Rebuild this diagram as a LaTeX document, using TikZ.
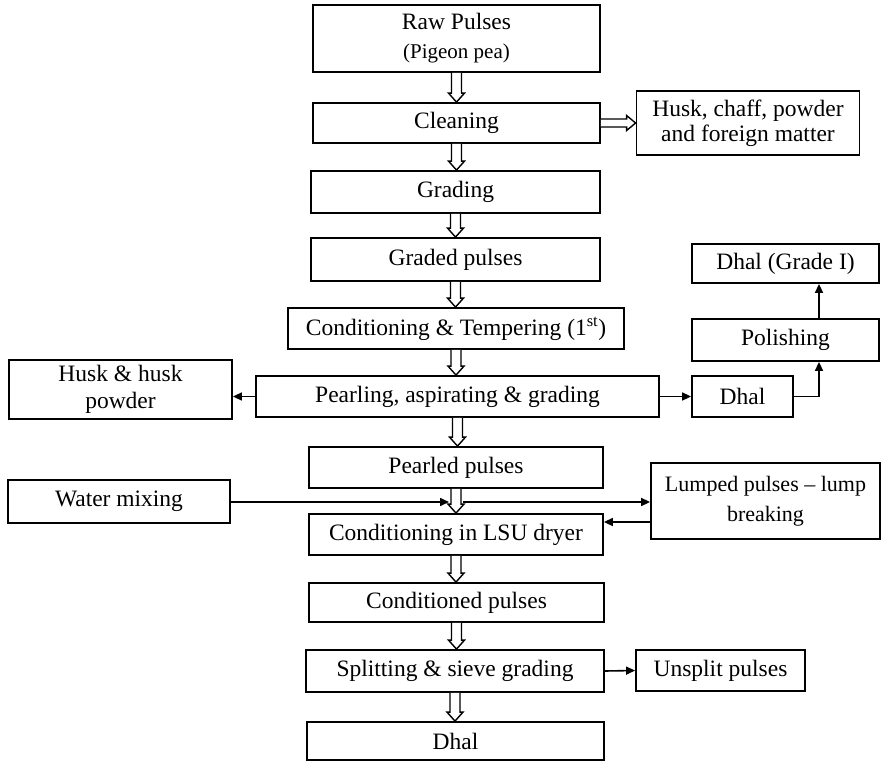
\documentclass[tikz,border=0pt]{standalone}
\usepackage{fontspec}
\setmainfont{Liberation Serif}
\usetikzlibrary{calc,arrows.meta}
\tikzset{
  box/.style={draw, line width=1.8pt, inner sep=0pt, align=center, fill=white,
    font=\fontsize{23.5}{25}\selectfont},
  hollowline/.style={draw, line width=1.4pt, fill=white, line join=miter},
  arr/.style={line width=1.6pt, -{Triangle[length=9pt,width=8pt]}}
}
\newcommand\vhollow[2]{\draw[hollowline] let \p1=(#1), \p2=(#2) in
  (\x1-5pt,\y1) -- (\x1-5pt,\y2+9pt) -- (\x1-8pt,\y2+9pt) -- (\x1,\y2)
  -- (\x1+8pt,\y2+9pt) -- (\x1+5pt,\y2+9pt) -- (\x1+5pt,\y1);}
\newcommand\hhollow[2]{\draw[hollowline] let \p1=(#1), \p2=(#2) in
  (\x1,\y1+4pt) -- (\x2-9pt,\y1+4pt) -- (\x2-9pt,\y1+7.5pt) -- (\x2,\y1)
  -- (\x2-9pt,\y1-7.5pt) -- (\x2-9pt,\y1-4pt) -- (\x1,\y1-4pt);}
\begin{document}
\begin{tikzpicture}[x=1pt,y=-1pt]
\useasboundingbox (0,0) rectangle (887,761);
% main column
\node[box, minimum width=287pt, minimum height=67pt] (raw) at (456.5,38.5)
  {Raw Pulses\\[4pt]{\fontsize{21}{22}\selectfont (Pigeon pea)}};
\node[box, minimum width=287pt, minimum height=40pt] (clean) at (456.5,123) {Cleaning};
\node[box, minimum width=289pt, minimum height=42pt] (grad) at (455.5,192) {Grading};
\node[box, minimum width=289pt, minimum height=43pt] (graded) at (455.5,259.5) {Graded pulses};
\node[box, minimum width=336pt, minimum height=41pt] (cond) at (456,328.5)
  {Conditioning \& Tempering (1\textsuperscript{st})};
\node[box, minimum width=403pt, minimum height=41pt] (pearl) at (457.5,396.5)
  {Pearling, aspirating \& grading};
\node[box, minimum width=294pt, minimum height=41pt] (pearled) at (456,467.5) {Pearled pulses};
\node[box, minimum width=294pt, minimum height=41pt] (lsu) at (456,534.5) {Conditioning in LSU dryer};
\node[box, minimum width=295pt, minimum height=39pt] (condd) at (456.5,602.5) {Conditioned pulses};
\node[box, minimum width=298pt, minimum height=42pt] (split) at (455,671) {Splitting \& sieve grading};
\node[box, minimum width=297pt, minimum height=38pt] (dhal) at (455.5,741) {Dhal};
% side boxes
\node[box, minimum width=223pt, minimum height=64pt] (husk) at (748,123)
  {Husk, chaff, powder\\and foreign matter};
\node[box, minimum width=223pt, minimum height=59pt, font=\fontsize{23.5}{27}\selectfont] (huskp) at (120.5,389.5)
  {Husk \& husk\\powder};
\node[box, minimum width=101pt, minimum height=41pt] (dhalr) at (742.5,396.5) {Dhal};
\node[box, minimum width=187pt, minimum height=42pt] (polish) at (785.5,340) {Polishing};
\node[box, minimum width=187pt, minimum height=39pt] (grade1) at (785.5,263.5) {Dhal (Grade I)};
\node[box, minimum width=222pt, minimum height=43pt] (water) at (119,501.5) {Water mixing};
\node[box, minimum width=229pt, minimum height=76pt, font=\fontsize{22}{30}\selectfont] (lump) at (765.5,501)
  {Lumped pulses -- lump\\breaking};
\node[box, minimum width=169pt, minimum height=41pt] (unsplit) at (720.5,670.5) {Unsplit pulses};
% hollow arrows
\vhollow{raw.south}{clean.north}
\vhollow{clean.south}{grad.north}
\vhollow{grad.south}{graded.north}
\vhollow{graded.south}{cond.north}
\vhollow{cond.south}{pearl.north}
\vhollow{pearl.south}{pearled.north}
\vhollow{pearled.south}{lsu.north}
\vhollow{lsu.south}{condd.north}
\vhollow{condd.south}{split.north}
\vhollow{split.south}{dhal.north}
\hhollow{clean.east}{husk.west}
% solid arrows
\draw[arr] (pearl.west) -- (pearl.west -| huskp.east);
\draw[arr] (pearl.east) -- (dhalr.west);
\coordinate (px) at (819,0);
\draw[arr] (dhalr.east) -| (px |- polish.south);
\draw[arr] (px |- polish.north) -- (px |- grade1.south);
\coordinate (jl) at (449,502);
\coordinate (jr) at (463,502);
\draw[arr] (water.east |- jl) -- (jl);
\draw[arr] (jr) -- (jr -| lump.west);
\coordinate (ret) at (651,522);
\draw[arr] (ret) -- (ret -| lsu.east);
\draw[arr] (split.east) -- (unsplit.west);
\end{tikzpicture}
\end{document}
